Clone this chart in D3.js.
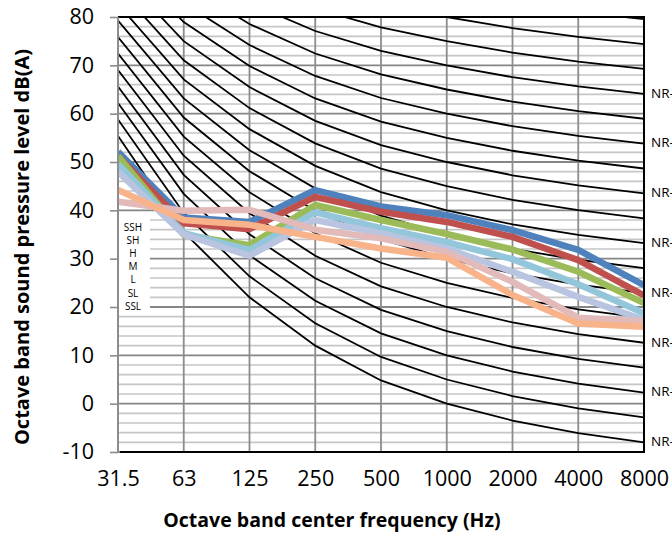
<!DOCTYPE html>
<html>
<head>
<meta charset="utf-8">
<script src="https://cdn.jsdelivr.net/npm/d3@7/dist/d3.min.js"></script>
<style>
  html, body { margin: 0; padding: 0; background: #fff; }
  svg { display: block; }
</style>
</head>
<body>
<svg id="chart" width="672" height="538"></svg>
<script>
// ---------------- data ----------------
const categories = ["31.5", "63", "125", "250", "500", "1000", "2000", "4000", "8000"];
const yTickValues = [-10, 0, 10, 20, 30, 40, 50, 60, 70, 80];
const seriesNames = ["SSH", "SH", "H", "M", "L", "SL", "SSL"];
const SSH = [52.1, 38.5, 37.6, 44.2, 40.8, 39.0, 35.9, 31.8, 24.5];
const SH  = [51.2, 37.3, 36.1, 42.8, 39.7, 37.6, 34.5, 29.7, 22.4];
const H   = [51.2, 34.9, 32.8, 41.1, 38.0, 35.1, 31.9, 27.3, 20.8];
const M   = [49.6, 35.3, 31.8, 39.6, 36.3, 33.4, 29.9, 24.7, 18.7];
const L   = [48.0, 35.0, 30.6, 38.0, 35.2, 32.1, 27.3, 22.1, 17.3];
const SL  = [41.8, 39.9, 40.1, 36.0, 34.2, 31.4, 25.2, 17.8, 17.0];
const SSL = [44.2, 38.0, 37.0, 34.5, 32.1, 30.2, 22.5, 16.6, 15.9];
const seriesColors = ["#4f81bd", "#c0504d", "#9bbb59", "#93c6da", "#b9c4e0", "#e2baba", "#f9b38a"];
// NR (noise rating) curves: level = A + B * NR for each octave band
const nrLevels = [0, 5, 10, 15, 20, 25, 30, 35, 40, 45, 50, 55, 60, 65, 70, 75, 80, 85];
const nrA = [55.4, 35.5, 22.0, 12.0, 4.8, 0.0, -3.5, -6.1, -8.0];
const nrB = [0.681, 0.790, 0.870, 0.930, 0.974, 1.000, 1.015, 1.025, 1.030];
const nrLabelLevels = [0, 10, 20, 30, 40, 50, 60, 70];

// ---------------- layout ----------------
const svg = d3.select("#chart");
const pLeft = 118, pRight = 644, pTop = 17, pBottom = 452;
const FONT = "'Open Sans', 'Liberation Sans', sans-serif";

const x = d3.scalePoint().domain(categories).range([pLeft, pRight]);
const y = d3.scaleLinear().domain([-10, 80]).range([pBottom, pTop]);

svg.append("rect").attr("width", 672).attr("height", 538).attr("fill", "#fff");

svg.append("defs").append("clipPath").attr("id", "plotclip")
  .append("rect").attr("x", pLeft).attr("y", pTop)
  .attr("width", pRight - pLeft).attr("height", pBottom - pTop);

const grid = svg.append("g");
// minor horizontal gridlines (every 2 dB)
const minorVals = d3.range(-10, 81, 2).filter(v => v % 10 !== 0);
grid.selectAll("line.minor").data(minorVals).join("line").attr("class", "minor")
  .attr("x1", pLeft).attr("x2", pRight)
  .attr("y1", d => y(d)).attr("y2", d => y(d))
  .attr("stroke", "#c6c6c6").attr("stroke-width", 1.6);
// major horizontal gridlines
grid.selectAll("line.major").data(yTickValues).join("line").attr("class", "major")
  .attr("x1", pLeft).attr("x2", pRight)
  .attr("y1", d => y(d)).attr("y2", d => y(d))
  .attr("stroke", "#868686").attr("stroke-width", 1.8);
// vertical gridlines
grid.selectAll("line.v").data(categories).join("line").attr("class", "v")
  .attr("x1", d => x(d)).attr("x2", d => x(d))
  .attr("y1", pTop).attr("y2", pBottom)
  .attr("stroke", "#8c8c8c").attr("stroke-width", 1.8);

// NR curves
const nrLine = d3.line().x((d, i) => x(categories[i])).y(d => y(d));
const nrData = nrLevels.map(n => nrA.map((a, i) => a + nrB[i] * n));
svg.append("g").attr("clip-path", "url(#plotclip)")
  .selectAll("path").data(nrData).join("path")
  .attr("d", nrLine).attr("fill", "none")
  .attr("stroke", "#000").attr("stroke-width", 1.8);

// legend box (white, covering gridlines)
svg.append("rect").attr("x", 119).attr("y", 216).attr("width", 31).attr("height", 97)
  .attr("fill", "#fff");

// data series
const seriesData = [SSH, SH, H, M, L, SL, SSL];
const sLine = d3.line().x((d, i) => x(categories[i])).y(d => y(d));
svg.append("g").attr("clip-path", "url(#plotclip)")
  .selectAll("path").data(seriesData).join("path")
  .attr("d", sLine).attr("fill", "none")
  .attr("stroke", (d, i) => seriesColors[i])
  .attr("stroke-width", 6.5)
  .attr("stroke-linejoin", "round");

// border lines (top, right, bottom) and left axis line
svg.append("line").attr("x1", pLeft).attr("x2", pRight + 1).attr("y1", pTop).attr("y2", pTop)
  .attr("stroke", "#000").attr("stroke-width", 2);
svg.append("line").attr("x1", pRight).attr("x2", pRight).attr("y1", pTop).attr("y2", pBottom)
  .attr("stroke", "#000").attr("stroke-width", 2);
svg.append("line").attr("x1", pLeft + 2).attr("x2", pRight + 1).attr("y1", pBottom).attr("y2", pBottom)
  .attr("stroke", "#000").attr("stroke-width", 2);
svg.append("line").attr("x1", pLeft).attr("x2", pLeft).attr("y1", pTop).attr("y2", pBottom)
  .attr("stroke", "#8c8c8c").attr("stroke-width", 1.8);

// y axis (ticks + labels)
const yAxis = d3.axisLeft(y).tickValues(yTickValues).tickSize(8).tickPadding(16).tickFormat(d => String(d));
const yg = svg.append("g").attr("transform", `translate(${pLeft},0)`).call(yAxis);
yg.select(".domain").remove();
yg.selectAll(".tick line").attr("stroke", "#8c8c8c").attr("stroke-width", 1.6);
yg.selectAll(".tick text").attr("font-family", FONT).attr("font-size", 21.5).attr("fill", "#000");

// x axis labels
const xAxis = d3.axisBottom(x).tickSize(0).tickPadding(19);
const xg = svg.append("g").attr("transform", `translate(0,${pBottom})`).call(xAxis);
xg.select(".domain").remove();
xg.selectAll(".tick text").attr("font-family", FONT).attr("font-size", 21.5).attr("fill", "#000");

// legend labels
svg.append("g").selectAll("text").data(seriesNames).join("text")
  .attr("x", 133).attr("y", (d, i) => 227 + i * 13.2)
  .attr("dy", "0.36em")
  .attr("text-anchor", "middle")
  .attr("font-family", FONT).attr("font-size", 10).attr("fill", "#000")
  .text(d => d);

// NR labels on the right (clipped by the picture edge, as in the original)
svg.append("g").selectAll("text").data(nrLabelLevels).join("text")
  .attr("x", 651)
  .attr("y", n => y(nrA[8] + nrB[8] * n) - 1)
  .attr("dy", "0.36em")
  .attr("font-family", FONT).attr("font-size", 13.5).attr("fill", "#000")
  .text(n => "NR-" + n);

// axis titles
svg.append("text").attr("x", 332).attr("y", 527)
  .attr("text-anchor", "middle")
  .attr("font-family", FONT).attr("font-weight", "bold").attr("font-size", 19.5)
  .text("Octave band center frequency (Hz)");
svg.append("text")
  .attr("transform", "translate(29,247) rotate(-90)")
  .attr("text-anchor", "middle")
  .attr("font-family", FONT).attr("font-weight", "bold").attr("font-size", 20)
  .text("Octave band sound pressure level dB(A)");
</script>
</body>
</html>
